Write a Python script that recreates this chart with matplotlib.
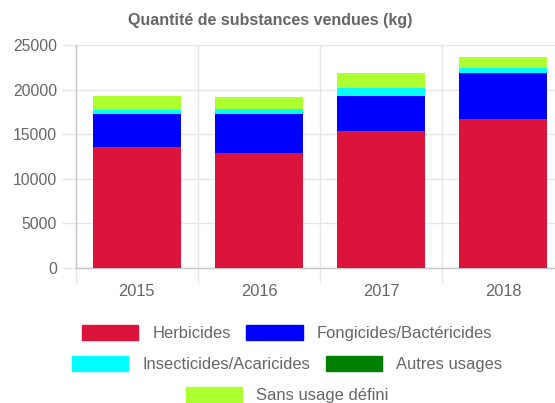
import matplotlib
matplotlib.use('Agg')
import matplotlib.pyplot as plt
from matplotlib.patches import Patch
import numpy as np

plt.rcParams['font.family'] = ['Liberation Sans', 'DejaVu Sans']

# ---------- Données ----------
annees = ["2015", "2016", "2017", "2018"]
herbicides = [13600, 12920, 15330, 16710]
fongicides = [3640, 4320, 3960, 5130]
insecticides = [480, 560, 930, 560]
autres = [0, 0, 0, 0]
sans_usage = [1570, 1410, 1690, 1270]

series = [
    ("Herbicides", herbicides, "#DC143C"),
    ("Fongicides/Bactéricides", fongicides, "#0000FF"),
    ("Insecticides/Acaricides", insecticides, "#00FFFF"),
    ("Autres usages", autres, "#008000"),
    ("Sans usage défini", sans_usage, "#ADFF2F"),
]

GRIS_TXT = "#666666"
GRIS_GRILLE = "#e6e6e6"
GRIS_AXE = "#c4c4c4"

W, H = 555, 403
fig = plt.figure(figsize=(W / 100, H / 100), dpi=100)

# zone du graphe (pixels -> fraction), le bord droit dépasse l'image
x0, x1 = 75.7, 564.6
y0, y1 = 267.7, 45.0
ax = fig.add_axes([x0 / W, 1 - y0 / H, (x1 - x0) / W, (y0 - y1) / H])

x = np.arange(len(annees))
bas = np.zeros(len(annees))
for nom, vals, coul in series:
    ax.bar(x, vals, width=0.72, bottom=bas, color=coul, zorder=3, linewidth=0)
    bas += np.array(vals)

ax.set_xlim(-0.5, len(annees) - 0.5)
ax.set_ylim(0, 25000)
ax.set_yticks(np.arange(0, 25001, 5000))
ax.set_xticks(x)
ax.set_xticklabels(annees)
ax.set_xticks(np.arange(-0.5, len(annees), 1.0), minor=True)

# grilles
ax.grid(axis='y', which='major', color=GRIS_GRILLE, linewidth=1, zorder=0)
ax.grid(axis='x', which='minor', color=GRIS_GRILLE, linewidth=1, zorder=0)
ax.grid(axis='x', which='major', visible=False)

for s in ["top", "right"]:
    ax.spines[s].set_visible(False)
for s in ["left", "bottom"]:
    ax.spines[s].set_color(GRIS_AXE)
    ax.spines[s].set_linewidth(1)

ax.tick_params(axis='y', length=10.3, width=1, color=GRIS_GRILLE, pad=3,
               labelsize=11.3, labelcolor=GRIS_TXT)
ax.tick_params(axis='x', which='major', length=0, pad=12,
               labelsize=11.8, labelcolor=GRIS_TXT)
ax.tick_params(axis='x', which='minor', length=10.5, width=1, color=GRIS_GRILLE)

# titre
fig.text(270 / W, 1 - 21 / H, "Quantité de substances vendues (kg)",
         ha='center', va='center', fontsize=11.5, fontweight='bold', color=GRIS_TXT)

# légende en trois lignes centrées
poignees = [Patch(facecolor=c, edgecolor=c, label=n) for n, _, c in series]
lignes = [(poignees[0:2], 333.3), (poignees[2:4], 364.0), (poignees[4:5], 395.0)]
for hs, yp in lignes:
    leg = fig.legend(handles=hs, ncol=len(hs), loc='center',
                     bbox_to_anchor=(287 / W, 1 - yp / H), frameon=False,
                     fontsize=11.9, handlelength=3.4, handleheight=1.0,
                     handletextpad=0.85, columnspacing=0.95, borderpad=0,
                     labelcolor=GRIS_TXT)

fig.savefig("out.png", dpi=100)
